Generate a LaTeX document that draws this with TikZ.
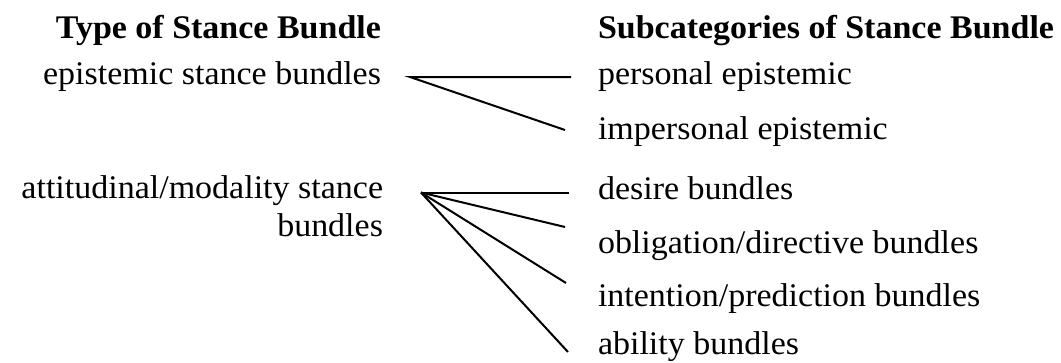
\documentclass[tikz,border=0pt]{standalone}
\usepackage{fontspec}
\setmainfont{Liberation Serif}[FakeStretch=1.03]
\begin{document}
\begin{tikzpicture}[x=1pt,y=-1pt,
  lbl/.style={inner sep=0pt,outer sep=0pt,font=\fontsize{33}{38}\selectfont},
  hdr/.style={lbl,font=\fontsize{33}{38}\selectfont\bfseries},
  conn/.style={line width=2pt,line cap=butt}]
\useasboundingbox (0,0) rectangle (1061,362);
% headings
\node[hdr,anchor=base east] (h1) at (381,38) {Type of Stance Bundle};
\node[hdr,anchor=base west] (h2) at (598,38) {Subcategories of Stance Bundle};
% left column
\node[lbl,anchor=base east] (l1) at (381,84) {epistemic stance bundles};
\node[lbl,anchor=base east,align=right] (l2) at (383,236) {attitudinal/modality stance\\bundles};
% right column
\node[lbl,anchor=base west] (r1) at (598,84) {personal epistemic};
\node[lbl,anchor=base west] (r2) at (598,139) {impersonal epistemic};
\node[lbl,anchor=base west] (r3) at (598,199) {desire bundles};
\node[lbl,anchor=base west] (r4) at (598,253) {obligation/directive bundles};
\node[lbl,anchor=base west] (r5) at (598,306) {intention/prediction bundles};
\node[lbl,anchor=base west] (r6) at (598,354) {ability bundles};
% connector end points
\coordinate (o1) at (410,77);
\coordinate (e1) at (571,77);
\coordinate (e2) at (565,130);
\coordinate (o2) at (421,192.5);
\coordinate (e3) at (569,192.5);
\coordinate (e4) at (565,227);
\coordinate (e5) at (566,283);
\coordinate (e6) at (568,352);
% connectors
\draw[conn] (e1) -- (o1) -- (e2);
\draw[conn] (o2) -- (e3);
\draw[conn] (o2) -- (e4);
\draw[conn] (o2) -- (e5);
\draw[conn] (o2) -- (e6);
\end{tikzpicture}
\end{document}
